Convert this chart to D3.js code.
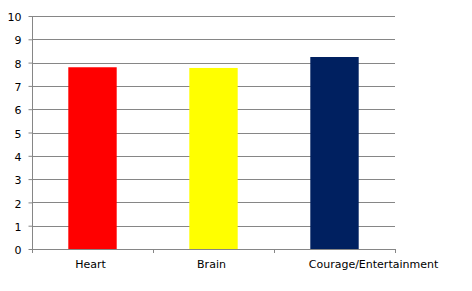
<!DOCTYPE html>
<html>
<head>
<meta charset="utf-8">
<script src="https://cdn.jsdelivr.net/npm/d3@7"></script>
<style>
  html, body { margin: 0; padding: 0; background: #fff; }
  svg { display: block; }
  text { font-family: "DejaVu Sans", sans-serif; font-size: 11px; fill: #000; }
</style>
</head>
<body>
<svg id="chart" width="472" height="291"></svg>
<script>
const categories = ["Heart", "Brain", "Courage/Entertainment"];
const values = [7.8, 7.77, 8.24];
const barColors = ["#FF0000", "#FFFF00", "#002060"];
const yTicks = [0, 1, 2, 3, 4, 5, 6, 7, 8, 9, 10];

(function () {
const svg = d3.select("#chart");
const pLeft = 32, pRight = 395, pTop = 16, pBottom = 249;
const gridColor = "#868686";

const x = d3.scaleBand().domain(categories).range([pLeft, pRight]).padding(0);
const y = d3.scaleLinear().domain([0, 10]).range([pBottom, pTop]);
const barW = x.bandwidth() * 0.4;

// gridlines
svg.append("g")
  .selectAll("line")
  .data(yTicks.filter(t => t > 0))
  .join("line")
  .attr("x1", pLeft).attr("x2", pRight)
  .attr("y1", d => Math.round(y(d)) + 0.5).attr("y2", d => Math.round(y(d)) + 0.5)
  .attr("stroke", gridColor).attr("stroke-width", 1);

// bars
svg.append("g")
  .selectAll("rect")
  .data(categories)
  .join("rect")
  .attr("x", d => x(d) + (x.bandwidth() - barW) / 2)
  .attr("width", barW)
  .attr("y", (d, i) => y(values[i]))
  .attr("height", (d, i) => pBottom - y(values[i]))
  .attr("fill", (d, i) => barColors[i]);

// y axis
const yAxis = svg.append("g")
  .attr("transform", `translate(${pLeft + 0.5},0.5)`)
  .call(d3.axisLeft(y).tickValues(yTicks).tickFormat(d3.format("d")).tickSize(4).tickPadding(7).offset(0));
yAxis.select(".domain").attr("stroke", gridColor).attr("d", `M0,${pTop}V${pBottom}`);
yAxis.selectAll(".tick line").attr("stroke", gridColor);
yAxis.selectAll(".tick text").attr("dy", "0.42em").style("font-family", "DejaVu Sans").style("font-size", "11px").attr("fill", "#000");

// x axis line and boundary ticks
const xg = svg.append("g");
xg.append("line")
  .attr("x1", pLeft).attr("x2", pRight)
  .attr("y1", pBottom + 0.5).attr("y2", pBottom + 0.5)
  .attr("stroke", gridColor);
const bounds = categories.map(c => x(c)).concat([pRight]);
xg.selectAll("line.bt")
  .data(bounds)
  .join("line")
  .attr("class", "bt")
  .attr("x1", d => Math.round(d) + 0.5).attr("x2", d => Math.round(d) + 0.5)
  .attr("y1", pBottom).attr("y2", pBottom + 4)
  .attr("stroke", gridColor);

// category labels
const xAxis = svg.append("g")
  .attr("transform", `translate(0,${pBottom})`)
  .call(d3.axisBottom(x).tickSize(0).tickPadding(11));
xAxis.select(".domain").remove();
xAxis.selectAll(".tick text")
  .style("font-family", "DejaVu Sans").style("font-size", "11px").attr("fill", "#000")
  .attr("dx", (d, i) => i === 2 ? 39 : -2);
})();
</script>
</body>
</html>
